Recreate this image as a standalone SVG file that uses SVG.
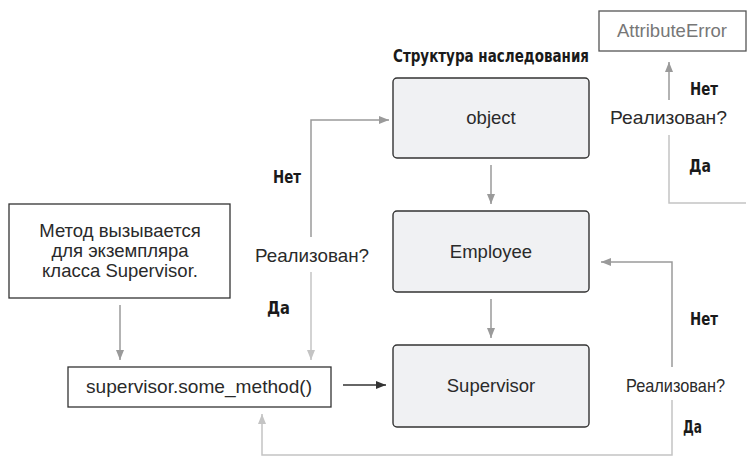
<svg xmlns="http://www.w3.org/2000/svg" width="747" height="473" viewBox="0 0 747 473">
  <style>
    .txt { font-family: "Liberation Sans", Arial, sans-serif; font-size: 18.5px; fill: #2a2a2a; }
    .lbl { font-family: "DejaVu Sans Condensed", "Liberation Sans Narrow", sans-serif; font-stretch: condensed; font-weight: bold; font-size: 18px; fill: #1a1a1a; }
    .cls rect { fill: #f0f1f3; stroke: #333; stroke-width: 1.4; }
    .plain rect { fill: #fff; stroke: #333; stroke-width: 1.3; }
    .mid { fill: none; stroke: #9a9a9a; stroke-width: 1.5; }
    .light { fill: none; stroke: #c4c4c4; stroke-width: 1.5; }
    .dark { fill: none; stroke: #333; stroke-width: 1.4; }
  </style>
  <defs>
    <marker id="ahMid" viewBox="0 0 10 10" refX="10" refY="5" markerWidth="11" markerHeight="10" markerUnits="userSpaceOnUse" orient="auto">
      <path d="M0,1 L10,5 L0,9 z" fill="#9a9a9a"/>
    </marker>
    <marker id="ahLight" viewBox="0 0 10 10" refX="10" refY="5" markerWidth="11" markerHeight="10" markerUnits="userSpaceOnUse" orient="auto">
      <path d="M0,1 L10,5 L0,9 z" fill="#c4c4c4"/>
    </marker>
    <marker id="ahDark" viewBox="0 0 10 10" refX="10" refY="5" markerWidth="11" markerHeight="10" markerUnits="userSpaceOnUse" orient="auto">
      <path d="M0,1 L10,5 L0,9 z" fill="#333"/>
    </marker>
  </defs>

  <!-- heading -->
  <text class="lbl" x="393" y="62" textLength="196" lengthAdjust="spacingAndGlyphs">Структура наследования</text>

  <!-- class hierarchy -->
  <g id="node-object" class="cls">
    <rect x="393" y="78" width="196" height="80" rx="4"/>
    <text class="txt" x="491" y="124" text-anchor="middle">object</text>
  </g>
  <g id="node-employee" class="cls">
    <rect x="393" y="211" width="196" height="81" rx="4"/>
    <text class="txt" x="491" y="258" text-anchor="middle">Employee</text>
  </g>
  <g id="node-supervisor" class="cls">
    <rect x="393" y="345" width="196" height="82" rx="4"/>
    <text class="txt" x="491" y="392" text-anchor="middle">Supervisor</text>
  </g>

  <g id="node-call-note" class="plain">
    <rect x="9" y="204" width="221" height="94"/>
    <text class="txt" x="120" y="237" text-anchor="middle">Метод вызывается</text>
    <text class="txt" x="120" y="257" text-anchor="middle">для экземпляра</text>
    <text class="txt" x="120" y="277" text-anchor="middle">класса Supervisor.</text>
  </g>
  <g id="node-call" class="plain">
    <rect x="68" y="367" width="263" height="40"/>
    <text class="txt" x="199" y="393" text-anchor="middle" textLength="226" lengthAdjust="spacingAndGlyphs">supervisor.some_method()</text>
  </g>
  <g id="node-error" class="plain">
    <rect x="599" y="11" width="147" height="40" style="stroke:#555"/>
    <text class="txt" x="672" y="37" text-anchor="middle" style="fill:#777">AttributeError</text>
  </g>

  <!-- connectors -->
  <g id="connectors">
    <line class="mid" x1="120" y1="305" x2="120" y2="360" marker-end="url(#ahMid)"/>
    <line class="dark" x1="343" y1="385" x2="386" y2="385" marker-end="url(#ahDark)"/>
    <line class="mid" x1="491" y1="165" x2="491" y2="204" marker-end="url(#ahMid)"/>
    <line class="mid" x1="491" y1="299" x2="491" y2="338" marker-end="url(#ahMid)"/>

    <!-- lookup in Supervisor -->
    <polyline class="light" points="672,400 672,455 262,455 262,414" marker-end="url(#ahLight)"/>
    <polyline class="mid" points="672,367 672,262 601,262" marker-end="url(#ahMid)"/>

    <!-- lookup in Employee -->
    <polyline class="light" points="311,272 311,360" marker-end="url(#ahLight)"/>
    <polyline class="mid" points="311,237 311,120 389,120" marker-end="url(#ahMid)"/>

    <!-- lookup in object -->
    <polyline class="light" points="746,203 669,203 669,135"/>
    <polyline class="mid" points="669,100 669,62" marker-end="url(#ahMid)"/>
  </g>

  <!-- branch labels -->
  <g id="labels">
    <text class="lbl" x="273" y="183" textLength="28" lengthAdjust="spacingAndGlyphs">Нет</text>
    <text class="txt" x="255" y="262" textLength="114" lengthAdjust="spacingAndGlyphs">Реализован?</text>
    <text class="lbl" x="267" y="314" textLength="23" lengthAdjust="spacingAndGlyphs">Да</text>

    <text class="lbl" x="690" y="95" textLength="28" lengthAdjust="spacingAndGlyphs">Нет</text>
    <text class="txt" x="610" y="124" textLength="117" lengthAdjust="spacingAndGlyphs">Реализован?</text>
    <text class="lbl" x="689" y="172" textLength="22" lengthAdjust="spacingAndGlyphs">Да</text>

    <text class="lbl" x="690" y="325" textLength="28" lengthAdjust="spacingAndGlyphs">Нет</text>
    <text class="txt" x="626" y="392" textLength="99" lengthAdjust="spacingAndGlyphs">Реализован?</text>
    <text class="lbl" x="683" y="433" textLength="19" lengthAdjust="spacingAndGlyphs">Да</text>
  </g>
</svg>
